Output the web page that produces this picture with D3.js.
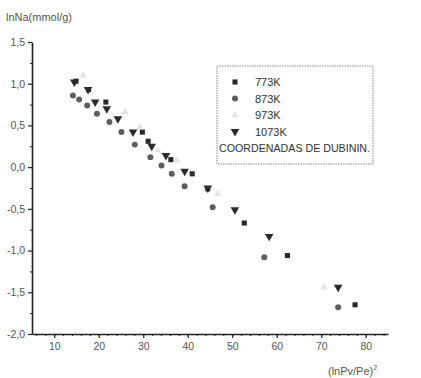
<!DOCTYPE html>
<html>
<head>
<meta charset="utf-8">
<script src="https://cdn.jsdelivr.net/npm/d3@7"></script>
<style>
  html, body { margin: 0; padding: 0; background: #fff; }
  svg { display: block; font-family: "Liberation Sans", Arial, sans-serif; }
</style>
</head>
<body>
<div id="chart"></div>
<script>
// Data: x = (lnPv/Pe)^2, y = lnNa
const s773x = [14.9, 17.7, 21.6, 29.8, 31.1, 36.2, 41.0, 44.5, 52.7, 62.4, 77.6];
const s773y = [1.03, 0.93, 0.78, 0.42, 0.31, 0.09, -0.08, -0.26, -0.67, -1.06, -1.65];

const s873x = [14.2, 15.6, 17.4, 19.6, 22.4, 25.1, 28.1, 31.6, 34.1, 36.4, 39.3, 45.6, 57.2, 73.8];
const s873y = [0.86, 0.81, 0.74, 0.64, 0.54, 0.42, 0.27, 0.12, 0.02, -0.08, -0.23, -0.48, -1.08, -1.68];

const s973x = [16.5, 25.9, 29.2, 33.3, 37.5, 46.7, 70.6];
const s973y = [1.10, 0.66, 0.48, 0.20, 0.08, -0.32, -1.44];

const s1073x = [14.5, 17.6, 19.2, 21.8, 24.3, 27.7, 31.9, 35.1, 39.3, 44.5, 50.6, 58.3, 73.8];
const s1073y = [1.02, 0.93, 0.78, 0.70, 0.58, 0.42, 0.25, 0.14, -0.05, -0.25, -0.51, -0.83, -1.44];

const seriesNames = ['773K', '873K', '973K', '1073K'];
const xTicks = [10, 20, 30, 40, 50, 60, 70, 80];
const yTicks = [-2.0, -1.5, -1.0, -0.5, 0.0, 0.5, 1.0, 1.5];
const legendNote = 'COORDENADAS DE DUBININ.';

const W = 421, H = 378;
const margin = { left: 32, top: 42, right: 33, bottom: 44 };
const innerW = W - margin.left - margin.right;
const innerH = H - margin.top - margin.bottom;

const svg = d3.select('#chart').append('svg')
  .attr('width', W).attr('height', H);

const g = svg.append('g')
  .attr('transform', `translate(${margin.left},${margin.top})`);

const x = d3.scaleLinear().domain([5, 85]).range([0, innerW]);
const y = d3.scaleLinear().domain([-2, 1.5]).range([innerH, 0]);

const fmt = (d) => d3.format('.1f')(d).replace('−', '-').replace('.', ',');
const axisColor = '#222';
const labelColor = '#555';

// minor ticks
g.append('g')
  .attr('transform', `translate(0,${innerH})`)
  .call(d3.axisBottom(x).tickValues(d3.range(6, 85, 2)).tickSize(2).tickFormat(''))
  .call((a) => a.select('.domain').remove())
  .call((a) => a.selectAll('line').attr('stroke', axisColor));
g.append('g')
  .call(d3.axisLeft(y).tickValues(d3.range(-1.75, 1.5, 0.5)).tickSize(2).tickFormat(''))
  .call((a) => a.select('.domain').remove())
  .call((a) => a.selectAll('line').attr('stroke', axisColor));

// major axes
const xAxisG = g.append('g')
  .attr('transform', `translate(0,${innerH})`)
  .call(d3.axisBottom(x).tickValues(xTicks).tickSize(4).tickSizeOuter(0).tickPadding(5));
const yAxisG = g.append('g')
  .call(d3.axisLeft(y).tickValues(yTicks).tickFormat(fmt).tickSize(4).tickSizeOuter(0).tickPadding(3));

[xAxisG, yAxisG].forEach((a) => {
  a.select('.domain').attr('stroke', axisColor).attr('stroke-width', 1.6);
  a.selectAll('.tick line').attr('stroke', axisColor).attr('stroke-width', 1.2);
  a.selectAll('.tick text')
    .attr('fill', labelColor)
    .style('font-size', '10.5px')
    .style('font-family', '"Liberation Sans", Arial, sans-serif');
});

// axis titles
svg.append('text')
  .attr('x', 6).attr('y', 21)
  .attr('fill', labelColor)
  .style('font-size', '11px')
  .text('lnNa(mmol/g)');

const xt = svg.append('text')
  .attr('x', 328).attr('y', 375)
  .attr('fill', labelColor)
  .style('font-size', '11px')
  .text('(lnPv/Pe)');
xt.append('tspan').attr('dy', -5).style('font-size', '7px').text('2');

// marker styles
const styles = [
  { name: seriesNames[0], xs: s773x, ys: s773y, type: d3.symbolSquare, size: 26, fill: '#2a2a2a', rot: 0 },
  { name: seriesNames[1], xs: s873x, ys: s873y, type: d3.symbolCircle, size: 28, fill: '#5e5e5e', rot: 0 },
  { name: seriesNames[2], xs: s973x, ys: s973y, type: d3.symbolTriangle, size: 24, fill: '#e4e4e4', rot: 0 },
  { name: seriesNames[3], xs: s1073x, ys: s1073y, type: d3.symbolTriangle, size: 32, fill: '#2a2a2a', rot: 180 }
];

const plot = g.append('g');
styles.forEach((s) => {
  const pts = s.xs.map((v, i) => ({ x: v, y: s.ys[i] }));
  plot.append('g').selectAll('path')
    .data(pts)
    .enter()
    .append('path')
    .attr('d', d3.symbol().type(s.type).size(s.size))
    .attr('transform', (d) => `translate(${x(d.x)},${y(d.y)}) rotate(${s.rot})`)
    .attr('fill', s.fill);
});

// legend
const lg = svg.append('g').attr('transform', 'translate(217,66)');
lg.append('rect')
  .attr('width', 156).attr('height', 98)
  .attr('fill', '#fff')
  .attr('stroke', '#888')
  .attr('stroke-width', 1)
  .attr('stroke-dasharray', '1.5,1');

styles.forEach((s, i) => {
  const ry = 16 + i * 16.5;
  lg.append('path')
    .attr('d', d3.symbol().type(s.type).size(s.size))
    .attr('transform', `translate(18,${ry}) rotate(${s.rot})`)
    .attr('fill', s.fill);
  lg.append('text')
    .attr('x', 38).attr('y', ry + 4)
    .attr('fill', '#333')
    .style('font-size', '11px')
    .text(s.name);
});
lg.append('text')
  .attr('x', 2).attr('y', 86)
  .attr('fill', '#333')
  .style('font-size', '11px')
  .attr('textLength', 151)
  .attr('lengthAdjust', 'spacingAndGlyphs')
  .text(legendNote);
</script>
</body>
</html>
